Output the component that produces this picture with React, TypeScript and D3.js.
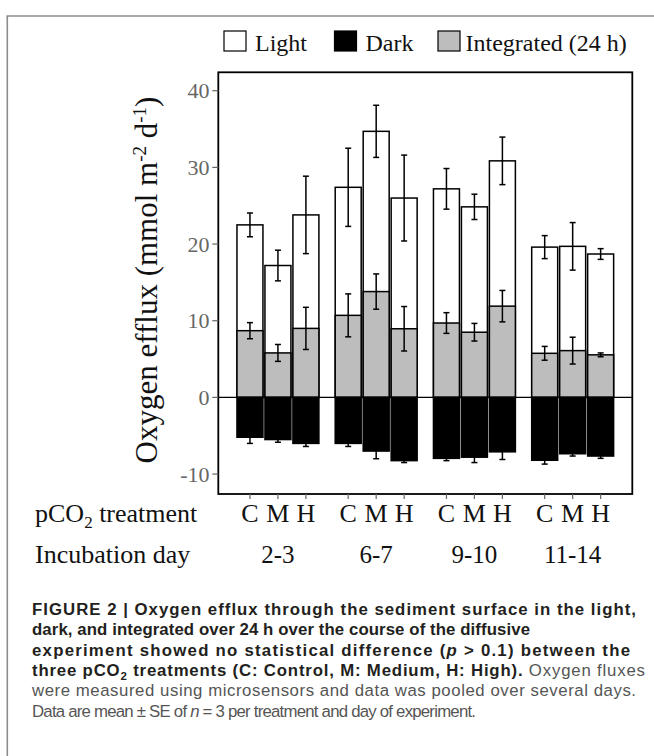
import React from 'react';
import * as d3 from 'd3';

const days = ['2-3', '6-7', '9-10', '11-14'];
const treatments = ['C', 'M', 'H'];
const lightMean = [22.5, 17.2, 23.8, 27.4, 34.7, 26.0, 27.2, 24.85, 30.85, 19.6, 19.7, 18.7];
const lightSE = [1.55, 2.0, 5.05, 5.1, 3.4, 5.6, 2.65, 1.65, 3.1, 1.5, 3.1, 0.7];
const integratedMean = [8.7, 5.8, 9.0, 10.7, 13.8, 8.95, 9.7, 8.5, 11.9, 5.75, 6.1, 5.55];
const integratedSE = [1.05, 1.1, 2.75, 2.8, 2.3, 2.9, 1.35, 1.15, 2.05, 0.9, 1.75, 0.25];
const darkMean = [-5.2, -5.5, -6.0, -6.0, -7.0, -8.25, -7.95, -7.8, -7.1, -8.2, -7.35, -7.65];
const darkSE = [0.8, 0.35, 0.4, 0.4, 1.0, 0.25, 0.3, 0.7, 1.0, 0.5, 0.3, 0.3];
const yTicks = [-10, 0, 10, 20, 30, 40];
const legendLabels = ['Light', 'Dark', 'Integrated (24 h)'];

const SERIF = '"Liberation Serif", "Times New Roman", serif';
const SANS = '"Liberation Sans", Arial, sans-serif';

export default function App() {
  const left = 218.3, right = 632.3, top = 72.3, bottom = 494;
  const y = d3.scaleLinear().domain([-12.6, 42.4]).range([bottom, top]);
  const xg = d3.scaleBand<string>().domain(days).range([left, right]).paddingInner(0.166).paddingOuter(0.19);
  const xi = d3.scaleBand<string>().domain(treatments).range([0, xg.bandwidth()]).paddingInner(0.0714);
  const bw = xi.bandwidth();
  const cap = 3;

  const rows = days.flatMap((d, gi) =>
    treatments.map((t, ti) => {
      const i = gi * 3 + ti;
      const x0 = (xg(d) as number) + (xi(t) as number);
      return { i, d, t, x0, cx: x0 + bw / 2 };
    })
  );

  const errBar = (cx: number, m: number, se: number, key: string) => (
    <g key={key} stroke="#000" strokeWidth={1.5}>
      <line x1={cx} x2={cx} y1={y(m + se)} y2={y(m - se)} />
      <line x1={cx - cap} x2={cx + cap} y1={y(m + se)} y2={y(m + se)} />
      <line x1={cx - cap} x2={cx + cap} y1={y(m - se)} y2={y(m - se)} />
    </g>
  );

  const legendItems = [
    { label: legendLabels[0], fill: '#fff', bx: 224, tx: 255 },
    { label: legendLabels[1], fill: '#000', bx: 334.5, tx: 365.5 },
    { label: legendLabels[2], fill: '#bdbdbd', bx: 438, tx: 465.5 },
  ];

  const capX = 32;
  const capY0 = 615;
  const lh = 20.3;
  const bold = { fontWeight: 700, fill: '#231f20' } as React.CSSProperties;
  const norm = { fontWeight: 400, fill: '#555555' } as React.CSSProperties;

  return (
    <svg width={654} height={756} style={{ position: 'absolute', left: 0, top: 0, background: '#fff' }}>
      <rect x={0} y={0} width={654} height={756} fill="#fff" />
      {/* outer frame */}
      <line x1={7.3} x2={7.3} y1={16} y2={760} stroke="#8c8c8c" strokeWidth={1.6} />
      <line x1={6.5} x2={660} y1={16} y2={16} stroke="#8c8c8c" strokeWidth={1.6} />

      {/* legend */}
      {legendItems.map((it) => (
        <g key={it.label}>
          <rect x={it.bx} y={31} width={22} height={20} fill={it.fill} stroke="#000" strokeWidth={1.2} />
          <text x={it.tx} y={50.5} fontFamily={SERIF} fontSize={24} fill="#111">{it.label}</text>
        </g>
      ))}

      {/* bars */}
      {rows.map((r) => (
        <rect key={'l' + r.i} x={r.x0} width={bw} y={y(lightMean[r.i])} height={y(0) - y(lightMean[r.i])}
          fill="#fff" stroke="#000" strokeWidth={1.5} />
      ))}
      {rows.map((r) => (
        <rect key={'g' + r.i} x={r.x0} width={bw} y={y(integratedMean[r.i])} height={y(0) - y(integratedMean[r.i])}
          fill="#bdbdbd" stroke="#000" strokeWidth={1.5} />
      ))}
      {rows.map((r) => (
        <rect key={'d' + r.i} x={r.x0} width={bw} y={y(0)} height={y(darkMean[r.i]) - y(0)}
          fill="#000" stroke="#000" strokeWidth={1.5} />
      ))}
      {rows.map((r) => errBar(r.cx, lightMean[r.i], lightSE[r.i], 'el' + r.i))}
      {rows.map((r) => errBar(r.cx, integratedMean[r.i], integratedSE[r.i], 'eg' + r.i))}
      {rows.map((r) => errBar(r.cx, darkMean[r.i], darkSE[r.i], 'ed' + r.i))}

      {/* zero line */}
      <line x1={left} x2={right} y1={y(0)} y2={y(0)} stroke="#000" strokeWidth={1.2} />

      {/* plot box */}
      <rect x={left} y={top} width={right - left} height={bottom - top} fill="none" stroke="#000" strokeWidth={1.8} />

      {/* y ticks */}
      {yTicks.map((v) => (
        <g key={'yt' + v}>
          <line x1={left - 6} x2={left} y1={y(v)} y2={y(v)} stroke="#666" strokeWidth={1.2} />
          <text x={209.5} y={y(v)} dy="0.35em" textAnchor="end" fontFamily={SERIF} fontSize={22} fill="#666">{v}</text>
        </g>
      ))}

      {/* x ticks and labels */}
      {rows.map((r) => (
        <g key={'xt' + r.i}>
          <line x1={r.cx} x2={r.cx} y1={bottom} y2={bottom + 5} stroke="#666" strokeWidth={1.2} />
          <text x={r.cx} y={522.3} textAnchor="middle" fontFamily={SERIF} fontSize={26} fill="#111">{r.t}</text>
        </g>
      ))}
      {days.map((d) => (
        <text key={'day' + d} x={(xg(d) as number) + xg.bandwidth() / 2} y={563} textAnchor="middle"
          fontFamily={SERIF} fontSize={25} fill="#111">{d}</text>
      ))}
      <text x={35} y={522.3} fontFamily={SERIF} fontSize={26} fill="#111">
        pCO<tspan fontSize={17} dy={6}>2</tspan><tspan dy={-6}> treatment</tspan>
      </text>
      <text x={35} y={563} fontFamily={SERIF} fontSize={26} fill="#111">Incubation day</text>

      {/* y axis title */}
      <text transform="translate(157,280) rotate(-90)" textAnchor="middle" fontFamily={SERIF} fontSize={31} fill="#111">
        Oxygen efflux (mmol m<tspan fontSize={19} dy={-11}>-2</tspan><tspan dy={11}> d</tspan><tspan fontSize={19} dy={-11}>-1</tspan><tspan dy={11}>)</tspan>
      </text>

      {/* caption */}
      <g fontFamily={SANS} fontSize={16.8}>
        <text x={capX} y={capY0} textLength={604} lengthAdjust="spacing" style={bold}>
          FIGURE 2 | Oxygen efflux through the sediment surface in the light,
        </text>
        <text x={capX} y={capY0 + lh} textLength={498} lengthAdjust="spacing" style={bold}>
          dark, and integrated over 24 h over the course of the diffusive
        </text>
        <text x={capX} y={capY0 + 2 * lh} textLength={598} lengthAdjust="spacing" style={bold}>
          experiment showed no statistical difference (<tspan fontStyle="italic">p</tspan> {'>'} 0.1) between the
        </text>
        <text x={capX} y={capY0 + 3 * lh} textLength={613} lengthAdjust="spacing">
          <tspan style={bold}>three pCO</tspan><tspan style={bold} fontSize={11.5} dy={4}>2</tspan><tspan style={bold} dy={-4}> treatments (C: Control, M: Medium, H: High).</tspan><tspan style={norm}> Oxygen fluxes</tspan>
        </text>
        <text x={capX} y={capY0 + 4 * lh} textLength={604} lengthAdjust="spacing" style={norm}>
          were measured using microsensors and data was pooled over several days.
        </text>
        <text x={capX} y={capY0 + 5 * lh} textLength={444} lengthAdjust="spacing" style={norm}>
          Data are mean ± SE of <tspan fontStyle="italic">n</tspan> = 3 per treatment and day of experiment.
        </text>
      </g>
    </svg>
  );
}
